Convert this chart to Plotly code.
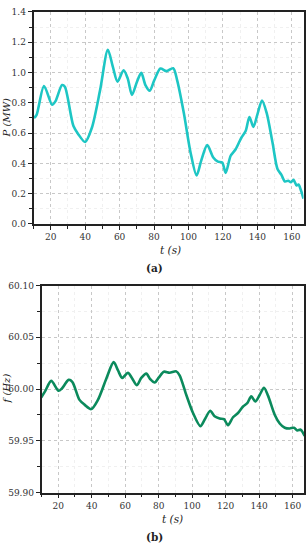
import plotly.graph_objects as go

# ---- data ----
t_p = [10.3, 11.8, 16.1, 20.8, 22.7, 26.6, 28.2, 33.2, 36.1, 40.0, 43.9, 48.7, 53.2, 56.1, 58.8,
       62.3, 64.7, 67.2, 70.1, 72.6, 75.0, 77.5, 80.2, 83.7, 87.2, 91.1, 93.4, 97.3, 101.2, 104.7,
       107.4, 110.9, 114.4, 117.1, 119.6, 121.6, 124.5, 127.4, 130.7, 133.2, 135.4, 137.7, 140.0,
       142.7, 145.4, 148.8, 151.7, 154.0, 156.0, 157.9, 159.5, 161.0, 162.8, 163.9, 165.3, 166.8]
p_mw = [0.70, 0.72, 0.911, 0.787, 0.809, 0.917, 0.906, 0.646, 0.591, 0.541, 0.635, 0.885, 1.15, 1.037, 0.939,
        1.015, 0.961, 0.852, 0.939, 0.998, 0.917, 0.880, 0.95, 1.026, 1.009, 1.028, 0.95, 0.733, 0.472, 0.320,
        0.418, 0.52, 0.439, 0.411, 0.406, 0.337, 0.450, 0.493, 0.569, 0.613, 0.706, 0.641, 0.722,
        0.815, 0.733, 0.537, 0.363, 0.324, 0.28, 0.285, 0.276, 0.291, 0.254, 0.26, 0.222, 0.167]

t_f = [9.8, 12.2, 15.8, 20.2, 22.2, 26.2, 28.4, 32.7, 35.7, 39.7, 43.7, 48.7, 53.1, 55.7, 58.2,
       61.6, 64.0, 67.0, 69.6, 72.6, 75.0, 77.6, 80.0, 83.1, 86.5, 90.5, 92.5, 96.5, 100.5, 104.9,
       107.5, 110.8, 113.4, 116.4, 119.0, 121.4, 124.4, 127.4, 130.4, 132.9, 135.3, 137.7, 140.3,
       142.9, 145.3, 149.3, 152.3, 155.3, 158.2, 160.8, 162.8, 164.8, 167.2]
f_hz = [59.9918, 59.998, 60.0079, 59.9984, 60.0006, 60.0089, 60.007, 59.9896, 59.985, 59.9807, 59.9896,
        60.010, 60.026, 60.018, 60.0108, 60.0158, 60.0108, 60.0038, 60.0108, 60.0149, 60.0095, 60.0063,
        60.011, 60.0168, 60.0158, 60.0171, 60.0133, 59.9943, 59.9769, 59.9642, 59.9706, 59.9791, 59.9737,
        59.9715, 59.9709, 59.9652, 59.9728, 59.9769, 59.9832, 59.9864, 59.993, 59.988, 59.9943, 60.0013,
        59.9937, 59.9753, 59.9668, 59.9627, 59.962, 59.9627, 59.9601, 59.9608, 59.9547]

x_ticks = [20, 40, 60, 80, 100, 120, 140, 160]
p_ticks = [0.0, 0.2, 0.4, 0.6, 0.8, 1.0, 1.2, 1.4]
f_ticks = [59.90, 59.95, 60.00, 60.05, 60.10]

W, H = 308, 550
FONT = "DejaVu Serif"

fig = go.Figure()
fig.add_trace(go.Scatter(x=t_p, y=p_mw, mode="lines", xaxis="x", yaxis="y",
                         line=dict(color="#1DC6C4", width=2.6, shape="spline", smoothing=0.8),
                         showlegend=False, cliponaxis=True))
fig.add_trace(go.Scatter(x=t_f, y=f_hz, mode="lines", xaxis="x2", yaxis="y2",
                         line=dict(color="#0B8A5C", width=2.6, shape="spline", smoothing=0.8),
                         showlegend=False, cliponaxis=True))

def px_x(p):
    return p / W

def px_y(p):
    return 1 - p / H

TICKFONT = dict(family=FONT, size=9, color="#333")

common_x = dict(range=[10, 166.8], tickvals=x_ticks, ticks="outside", ticklen=4, tickwidth=1.3,
                tickcolor="#222", showline=True, linecolor="#222", linewidth=1.5, mirror=True,
                showgrid=True, gridcolor="#c8c8c8", griddash="dot", gridwidth=1,
                zeroline=False, tickfont=TICKFONT,
                minor=dict(dtick=10, tick0=0, ticks="outside", ticklen=3, tickcolor="#222",
                           showgrid=True, gridcolor="#f0f0f0", gridwidth=1))
common_y = dict(ticks="outside", ticklen=4, tickwidth=1.3, tickcolor="#222",
                showline=True, linecolor="#222", linewidth=1.5, mirror=True,
                showgrid=True, gridcolor="#c8c8c8", griddash="dot", gridwidth=1,
                zeroline=False, tickfont=TICKFONT)

fig.update_layout(
    width=W, height=H, margin=dict(l=0, r=0, t=0, b=0),
    paper_bgcolor="white", plot_bgcolor="white",
    font=dict(family=FONT),
    xaxis=dict(domain=[px_x(33.5), px_x(303.5)], anchor="y", **common_x),
    yaxis=dict(domain=[px_y(223), px_y(7)], anchor="x", range=[0, 1.4], tickvals=p_ticks,
               tickformat=".1f",
               minor=dict(dtick=0.1, tick0=0, ticks="outside", ticklen=3, tickcolor="#222",
                          showgrid=True, gridcolor="#f0f0f0", gridwidth=1),
               **common_y),
    xaxis2=dict(domain=[px_x(41.5), px_x(304)], anchor="y2", **common_x),
    yaxis2=dict(domain=[px_y(496.7), px_y(285.7)], anchor="x2", range=[59.90, 60.10],
                tickvals=f_ticks, tickformat=".2f",
                minor=dict(dtick=0.025, tick0=59.9, ticks="outside", ticklen=3, tickcolor="#222",
                           showgrid=True, gridcolor="#f0f0f0", gridwidth=1),
                **common_y),
)

ann = [
    dict(text="<i>P (MW)</i>", x=px_x(6.5), y=px_y(115), textangle=-90, size=10),
    dict(text="<i>t (s)</i>", x=px_x(170), y=px_y(250), textangle=0, size=10.5),
    dict(text="<b>(a)</b>", x=px_x(154), y=px_y(268), textangle=0, size=10.5),
    dict(text="<i>f (Hz)</i>", x=px_x(6.5), y=px_y(391), textangle=-90, size=10),
    dict(text="<i>t (s)</i>", x=px_x(172), y=px_y(524), textangle=0, size=10.5),
    dict(text="<b>(b)</b>", x=px_x(154), y=px_y(542), textangle=0, size=10.5),
]
for a in ann:
    fig.add_annotation(text=a["text"], x=a["x"], y=a["y"], xref="paper", yref="paper",
                       showarrow=False, textangle=a["textangle"], xanchor="center", yanchor="middle",
                       font=dict(family=FONT, size=a["size"], color="#222"))

fig.write_html(
    "out.html",
    config={"displayModeBar": False},
    post_script="document.body.style.margin='0';document.body.style.padding='0';"
                "document.body.style.overflow='hidden';"
                "document.documentElement.style.overflow='hidden';",
)
